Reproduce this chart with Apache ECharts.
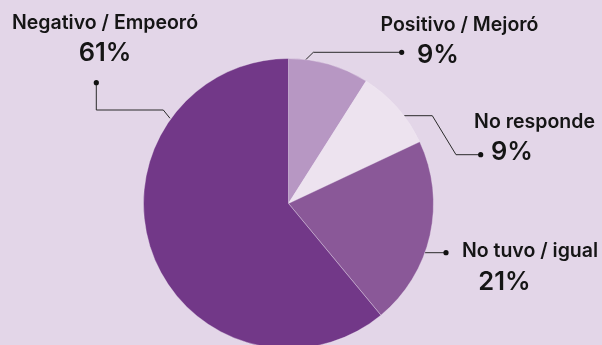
<!DOCTYPE html>
<html>
<head>
<meta charset="utf-8">
<script src="https://cdn.jsdelivr.net/npm/echarts@6/dist/echarts.min.js"></script>
<style>
  html, body { margin: 0; padding: 0; background: #e3d6e8; }
  #chart { width: 602px; height: 345px; }
</style>
</head>
<body>
<div id="chart"></div>
<script>
// Survey answer categories and their shares (%)
const categories = ['Positivo / Mejoró', 'No responde', 'No tuvo / igual', 'Negativo / Empeoró'];
const shares = [9, 9, 21, 61];
const sliceColors = ['#b797c3', '#ede3ef', '#8a5898', '#723888'];

// Label placement around the pie (name line, value line, leader path)
const nameSpots = [
  { x: 459.5, y: 25.5 }, { x: 534.5, y: 122.5 }, { x: 530, y: 251 }, { x: 105, y: 23 }
];
const valueSpots = [
  { x: 438, y: 55 }, { x: 512, y: 152 }, { x: 504.5, y: 282.5 }, { x: 105, y: 53 }
];
const leaderPaths = [
  [[302.7, 62.7], [313.3, 52.3], [401.7, 52.3]],
  [[404.3, 115.7], [432.3, 115.7], [456, 154.7], [480.7, 154.7]],
  [[425, 252.7], [446, 252.7]],
  [[170, 118.3], [163.3, 110], [96.3, 110], [96.3, 82.7]]
];

const pieData = categories.map((name, i) => ({
  name: name,
  value: shares[i],
  itemStyle: { color: sliceColors[i] }
}));

const fontFamily = 'Inter, Lato, sans-serif';
const chart = echarts.init(document.getElementById('chart'), null, { renderer: 'canvas' });

const dots = leaderPaths.map(p => {
  const end = p[p.length - 1];
  return {
    type: 'circle',
    shape: { cx: end[0], cy: end[1], r: 2.6 },
    style: { fill: '#111' },
    z: 100
  };
});

chart.setOption({
  backgroundColor: '#e3d6e8',
  animation: false,
  graphic: dots,
  series: [
    {
      // slices + category names
      type: 'pie',
      center: [288.5, 203.5],
      radius: 145,
      startAngle: 90,
      clockwise: true,
      data: pieData,
      itemStyle: { borderColor: 'rgba(240,232,244,0.6)', borderWidth: 0.6 },
      label: {
        show: true,
        formatter: '{b}',
        color: '#151515',
        fontFamily: fontFamily,
        fontWeight: 600,
        fontSize: 19.5,
        overflow: 'none'
      },
      labelLine: { show: false },
      labelLayout: function (params) {
        const s = nameSpots[params.dataIndex];
        return { x: s.x, y: s.y, align: 'center', verticalAlign: 'middle' };
      }
    },
    {
      // percentage values with leader lines
      type: 'pie',
      center: [288.5, 203.5],
      radius: 145,
      startAngle: 90,
      clockwise: true,
      silent: true,
      data: pieData.map(d => ({ name: d.name, value: d.value, itemStyle: { color: 'rgba(0,0,0,0)' } })),
      label: {
        show: true,
        formatter: '{c}%',
        color: '#151515',
        fontFamily: fontFamily,
        fontWeight: 600,
        fontSize: 25.5,
        overflow: 'none'
      },
      labelLine: { show: true, lineStyle: { color: '#2a2a2a', width: 1 } },
      labelLayout: function (params) {
        const s = valueSpots[params.dataIndex];
        return {
          x: s.x, y: s.y, align: 'center', verticalAlign: 'middle',
          labelLinePoints: leaderPaths[params.dataIndex]
        };
      }
    }
  ]
});
</script>
</body>
</html>
